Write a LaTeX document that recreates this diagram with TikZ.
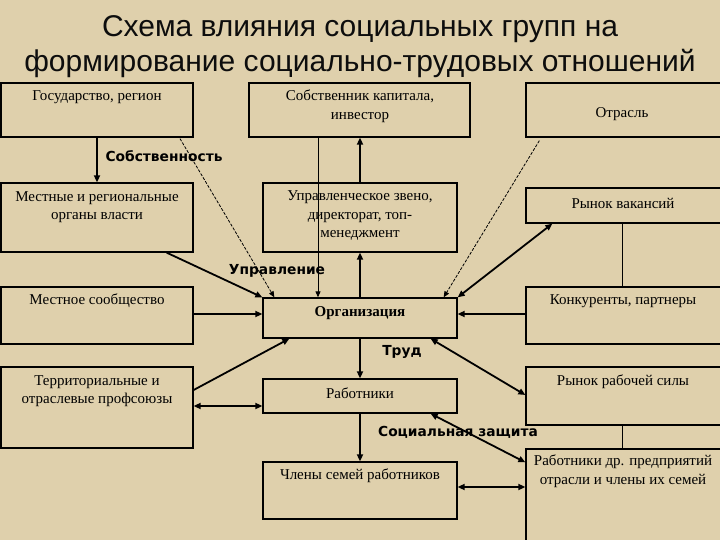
\documentclass[tikz,border=0pt]{standalone}
\usepackage{fontspec}
\setmainfont{Liberation Serif}
\newfontfamily\titlefont{Liberation Sans}
\newfontfamily\lblfont{DejaVu Sans}
\usetikzlibrary{arrows.meta,fit}
\definecolor{bg}{RGB}{223,208,172}
\tikzset{
  box/.style={draw=black, line width=1.3pt, inner sep=0pt},
  txt/.style={inner sep=0pt, align=center, font=\fontsize{15}{18.5}\selectfont},
  lbl/.style={inner sep=0pt, font=\lblfont\bfseries\fontsize{13.8}{16}\selectfont},
  thick arr/.style={line width=1.8pt, -{Triangle[length=7pt,width=6pt]}},
  thick dbl/.style={line width=1.8pt, {Triangle[length=7pt,width=6pt]}-{Triangle[length=7pt,width=6pt]}},
  thin arr/.style={line width=0.9pt, -{Triangle[length=6pt,width=5pt]}},
  dash arr/.style={line width=0.8pt, dash pattern=on 3pt off 1.5pt, -{Triangle[length=6pt,width=5pt]}},
  plain/.style={line width=1.3pt}
}
\begin{document}
\begin{tikzpicture}[x=1pt,y=-1pt]
\fill[bg] (0,0) rectangle (720,540);
\useasboundingbox (0,0) rectangle (720,540);

% title
\node[inner sep=0pt, align=center, text=black!95, font=\titlefont\fontsize{30}{35}\selectfont] (title) at (360,47)
  {Схема влияния социальных групп на\\формирование социально-трудовых отношений};

% boxes
\node[box, fit={(1,83) (193,137)}] (gos) {};
\node[box, fit={(249,83) (470,137)}] (sob) {};
\node[box, fit={(526,83) (724,137)}] (otr) {};
\node[box, fit={(1,183) (193,252)}] (mest) {};
\node[box, fit={(263,183) (457,252)}] (upr) {};
\node[box, fit={(526,188) (724,223)}] (vak) {};
\node[box, fit={(1,287) (193,344)}] (mso) {};
\node[box, fit={(263,298) (457,338)}] (org) {};
\node[box, fit={(526,287) (724,344)}] (kon) {};
\node[box, fit={(1,367) (193,448)}] (prof) {};
\node[box, fit={(263,379) (457,413)}] (rab) {};
\node[box, fit={(526,367) (724,425)}] (rrs) {};
\node[box, fit={(263,462) (457,519)}] (chl) {};
\node[box, fit={(526,449) (724,545)}] (dr) {};

% box texts
\node[txt] (gos-t) at (97,97) {Государство, регион};
\node[txt] (sob-t) at (360,106) {Собственник капитала,\\инвестор};
\node[txt] (otr-t) at (622,114) {Отрасль};
\node[txt] (mest-t) at (97,207) {Местные и региональные\\органы власти};
\node[txt] (upr-t) at (360,216) {Управленческое звено,\\директорат, топ-\\менеджмент};
\node[txt] (vak-t) at (623,203) {Рынок вакансий};
\node[txt] (mso-t) at (97,301) {Местное сообщество};
\node[txt, font=\bfseries\fontsize{15}{18}\selectfont] (org-t) at (360,313) {Организация};
\node[txt] (kon-t) at (623,301) {Конкуренты, партнеры};
\node[txt] (prof-t) at (97,391) {Территориальные и\\отраслевые профсоюзы};
\node[txt] (rab-t) at (360,393) {Работники};
\node[txt] (rrs-t) at (623,382) {Рынок рабочей силы};
\node[txt] (chl-t) at (360,476) {Члены семей работников};
\node[txt] (dr-t) at (623,471) {Работники др. предприятий\\отрасли и члены их семей};

% connectors
\draw[thick arr] (gos.south) -- (mest.north);
\draw[dash arr] ([xshift=83pt,yshift=-1pt]gos.south) -- ([xshift=12pt]org.north west);
\draw[thick arr] ([xshift=-27pt]mest.south east) -- (org.north west);
\draw[thin arr] ([xshift=-41.5pt]sob.south) -- ([xshift=-42pt]org.north);
\draw[thick arr] (org.north) -- (upr.south);
\draw[thick arr] (upr.north) -- (upr.north |- sob.south);
\draw[dash arr] ([xshift=14pt,yshift=-3pt]otr.south west) -- ([xshift=-14pt]org.north east);
\draw[thick dbl] (org.north east) -- ([xshift=27pt]vak.south west);
\draw[plain] ([xshift=97pt]vak.south west) -- ([xshift=97pt]kon.north west);
\draw[thick arr] ([yshift=1.5pt]kon.west) -- ([yshift=4pt]org.east);
\draw[thick arr] ([yshift=1.5pt]mso.east) -- ([yshift=4pt]org.west);
\draw[thick arr] ([yshift=17.5pt]prof.east) -- ([xshift=27pt]org.south west);
\draw[thick dbl] ([yshift=1.5pt]prof.east) -- ([yshift=-10pt]rab.west);
\draw[thick arr] (org.south) -- (rab.north);
\draw[thick dbl] ([xshift=-27pt]org.south east) -- ([yshift=1pt]rrs.west);
\draw[plain] ([xshift=97pt]rrs.south west) -- ([xshift=97pt]dr.north west);
\draw[thick dbl] ([xshift=-27pt]rab.south east) -- ([yshift=-14pt]dr.north west);
\draw[thick arr] (rab.south) -- (chl.north);
\draw[thick dbl] ([yshift=3.5pt]chl.east) -- ([yshift=10pt]dr.west);

% flow labels
\node[lbl] (l-sob) at (164,156) {Собственность};
\node[lbl] (l-upr) at (277,271) {Управление};
\node[lbl] (l-trud) at (402,352) {Труд};
\node[lbl] (l-soc) at (458,432) {Социальная защита};
\end{tikzpicture}
\end{document}
